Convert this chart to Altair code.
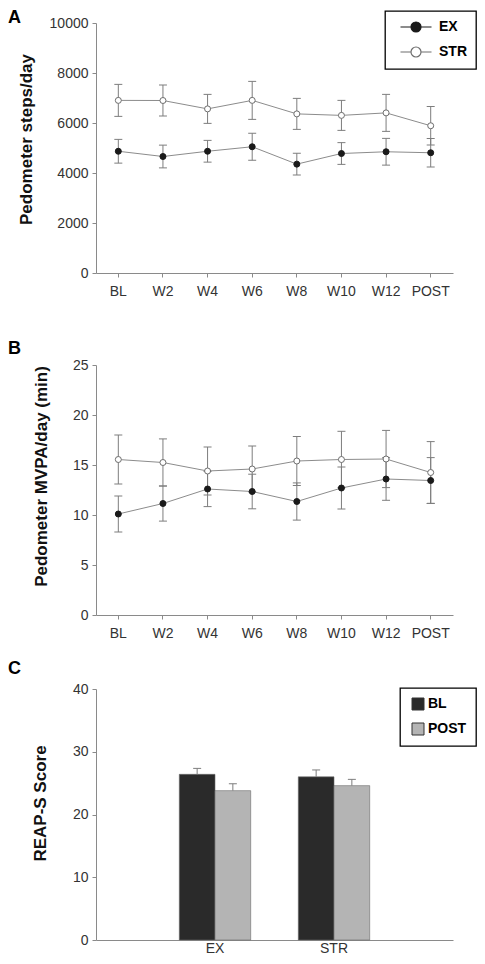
import altair as alt
import pandas as pd

weeks = ["BL", "W2", "W4", "W6", "W8", "W10", "W12", "POST"]
groups = ["EX", "STR"]
panel_letters = ["A", "B", "C"]

steps_ex = [4870, 4660, 4870, 5050, 4355, 4780, 4850, 4810]
steps_ex_err = [475, 455, 435, 540, 435, 435, 535, 570]
steps_str = [6905, 6900, 6565, 6905, 6365, 6305, 6405, 5890]
steps_str_err = [640, 620, 580, 760, 620, 600, 740, 770]

mvpa_ex = [10.1, 11.15, 12.6, 12.35, 11.35, 12.7, 13.6, 13.45]
mvpa_ex_err = [1.8, 1.76, 1.76, 1.73, 1.86, 2.1, 2.13, 2.29]
mvpa_str = [15.55, 15.25, 14.4, 14.6, 15.4, 15.55, 15.6, 14.25]
mvpa_str_err = [2.45, 2.36, 2.4, 2.3, 2.45, 2.82, 2.86, 3.09]

reap_groups = ["EX", "STR"]
reap_times = ["BL", "POST"]
reap_bl = [26.4, 26.0]
reap_bl_err = [0.95, 1.1]
reap_post = [23.8, 24.6]
reap_post_err = [1.1, 1.0]


def long_df(ex, ex_err, st, st_err):
    rows = []
    for g, vals, errs in (("EX", ex, ex_err), ("STR", st, st_err)):
        for w, v, e in zip(weeks, vals, errs):
            rows.append({"week": w, "group": g, "value": v, "lo": v - e, "hi": v + e})
    return pd.DataFrame(rows)


dfA = long_df(steps_ex, steps_ex_err, steps_str, steps_str_err)
dfB = long_df(mvpa_ex, mvpa_ex_err, mvpa_str, mvpa_str_err)

rowsC = []
for i, g in enumerate(reap_groups):
    rowsC.append({"group": g, "time": "BL", "value": reap_bl[i], "hi": reap_bl[i] + reap_bl_err[i]})
    rowsC.append({"group": g, "time": "POST", "value": reap_post[i], "hi": reap_post[i] + reap_post_err[i]})
dfC = pd.DataFrame(rowsC)

FONT = "Liberation Sans"
AXIS_GRAY = "#8a8a8a"
LABEL_COL = "#333333"
LINE_GRAY = "#8c8c8c"
ERR_GRAY = "#7d7d7d"
W = 357

legend_path = ("M-3.1,0H-1M1,0H3.1M1,0A1,1,0,1,1,-1,0A1,1,0,1,1,1,0Z")


def y_axis(title, values, every, title_y, title_pad):
    return alt.Axis(
        title=title, values=values, format="d",
        labelExpr=f"datum.value % {every} == 0 ? datum.label : ''",
        grid=False, tickSize=4, tickColor=AXIS_GRAY, domainColor=AXIS_GRAY,
        labelColor=LABEL_COL, labelFontSize=14, labelPadding=4,
        titleFontSize=17, titleFontWeight="bold", titleColor="#111111",
        titleY=title_y, titlePadding=title_pad,
    )


def letter_layer(letter, y):
    return alt.Chart(pd.DataFrame({"t": [letter]})).mark_text(
        align="left", baseline="alphabetic", fontSize=18, fontWeight="bold",
        color="black", font=FONT,
    ).encode(text="t:N", x=alt.value(-88), y=alt.value(y))


def line_panel(df, letter, letter_y, ytitle, ymax, yvalues, every,
               title_y, title_pad, legend, height, top_extra):
    x = alt.X("week:N", sort=weeks,
              axis=alt.Axis(title=None, labelAngle=0, grid=False, tickSize=4,
                            tickColor=AXIS_GRAY, domainColor=AXIS_GRAY,
                            labelColor=LABEL_COL, labelFontSize=14, labelPadding=7))
    y_enc = alt.Y("value:Q",
                  scale=alt.Scale(domain=[0, ymax], nice=False, range=[height, top_extra]),
                  axis=y_axis(ytitle, yvalues, every, title_y, title_pad))
    base = alt.Chart(df).encode(x=x)
    line = base.mark_line(color=LINE_GRAY, strokeWidth=1).encode(y=y_enc, detail="group:N")
    rule = base.mark_rule(color=ERR_GRAY, strokeWidth=1).encode(y="lo:Q", y2="hi:Q")
    tlo = base.mark_tick(color=ERR_GRAY, size=8, thickness=1, opacity=1).encode(y="lo:Q")
    thi = base.mark_tick(color=ERR_GRAY, size=8, thickness=1, opacity=1).encode(y="hi:Q")
    leg = None
    if legend:
        leg = alt.Legend(title=None, orient="none", legendX=289, legendY=-12,
                         symbolType=legend_path, symbolSize=100,
                         symbolStrokeWidth=1.2, labelFontSize=14,
                         labelFontWeight="bold", labelColor="black",
                         symbolOffset=15, labelOffset=16, rowPadding=9,
                         padding=9)
    pts = base.mark_point(shape="circle", filled=True, size=36, opacity=1,
                          strokeWidth=1).encode(
        y="value:Q",
        fill=alt.Fill("group:N", scale=alt.Scale(domain=groups, range=["#1a1a1a", "white"]),
                      legend=leg),
        stroke=alt.Stroke("group:N", scale=alt.Scale(domain=groups, range=["#1a1a1a", "#6e6e6e"]),
                          legend=leg),
    )
    return alt.layer(line, rule, tlo, thi, pts, letter_layer(letter, letter_y)).properties(
        width=W, height=height)


# Panel A: plot 250 tall; Panel B: 18 px of empty room above its plot
chartA = line_panel(dfA, panel_letters[0], 0.2, "Pedometer steps/day", 10000,
                    list(range(0, 10001, 1000)), 2000, 116, 14, True, 250, 0)
chartB = line_panel(dfB, panel_letters[1], 7, "Pedometer MVPA/day (min)", 25,
                    list(range(0, 26, 5)), 5, 129, 22, False, 268, 18)

xC = alt.X("group:N", sort=reap_groups,
           scale=alt.Scale(paddingInner=0.4, paddingOuter=0.7),
           axis=alt.Axis(title=None, labelAngle=0, ticks=False, domainColor=AXIS_GRAY,
                         labelColor=LABEL_COL, labelFontSize=14, labelPadding=1))
xoff = alt.XOffset("time:N", sort=reap_times, scale=alt.Scale(paddingInner=0, paddingOuter=0))
baseC = alt.Chart(dfC).encode(x=xC, xOffset=xoff)
bars = baseC.mark_bar(stroke="#6a6a6a", strokeWidth=0.6).encode(
    y=alt.Y("value:Q", scale=alt.Scale(domain=[0, 40], nice=False),
            axis=y_axis("REAP-S Score", list(range(0, 41, 5)), 10, 114, 23)),
    fill=alt.Fill("time:N", sort=reap_times,
                  scale=alt.Scale(domain=reap_times, range=["#2a2a2a", "#b4b4b4"]),
                  legend=alt.Legend(title=None, orient="none", legendX=304, legendY=-1,
                                    symbolType="square", symbolSize=144,
                                    symbolStrokeColor="#333333", symbolStrokeWidth=1,
                                    labelFontSize=14, labelFontWeight="bold",
                                    labelColor="black", symbolOffset=2, labelOffset=3,
                                    rowPadding=9, padding=9)),
)
ruleC = baseC.mark_rule(color=ERR_GRAY, strokeWidth=1).encode(y="value:Q", y2="hi:Q")
tickC = baseC.mark_tick(color=ERR_GRAY, size=8, thickness=1, opacity=1).encode(y="hi:Q")
chartC = alt.layer(bars, ruleC, tickC, letter_layer(panel_letters[2], -15)).properties(
    width=W, height=251)

chart = alt.vconcat(chartA, chartB, chartC, spacing=74, bounds="flush").resolve_scale(
    fill="independent", stroke="independent"
).resolve_legend(fill="independent", stroke="independent").properties(
    padding={"left": 0, "top": 1, "right": 0, "bottom": 0}
).configure(font=FONT).configure_view(strokeWidth=0, stroke="transparent").configure_legend(
    strokeColor="black", strokeWidth=1.3
)

chart.save("out.html", embed_options={"renderer": "svg", "actions": False})
